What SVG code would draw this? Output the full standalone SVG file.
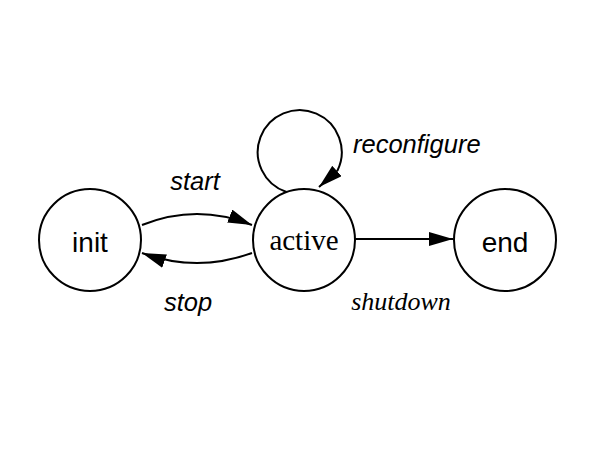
<svg xmlns="http://www.w3.org/2000/svg" width="600" height="450" viewBox="0 0 600 450">
<defs>
<style>
.node{fill:#fff;stroke:#000;stroke-width:2}
.edge{fill:none;stroke:#000;stroke-width:2}
.sans{font-family:"Liberation Sans",Arial,sans-serif;font-size:28px;fill:#000;text-anchor:middle}
.serif{font-family:"Liberation Serif","Times New Roman",serif;font-size:29px;fill:#000;text-anchor:middle}
.lbl{font-family:"Liberation Sans",Arial,sans-serif;font-size:25.5px;font-style:italic;fill:#000}
.lbls{font-family:"Liberation Serif","Times New Roman",serif;font-size:26px;font-style:italic;fill:#000}
</style>
<marker id="arr" markerUnits="userSpaceOnUse" markerWidth="24" markerHeight="14" refX="24" refY="7" orient="auto" viewBox="0 0 24 14">
<path d="M0,0 L24,7 L0,14 z" fill="#000"/>
</marker>
</defs>
<rect width="600" height="450" fill="#fff"/>
<g id="edges">
<path class="edge" d="M142,225 Q197,203 252,225" marker-end="url(#arr)"/>
<path class="edge" d="M252,253 Q197,273 142,253" marker-end="url(#arr)"/>
<path class="edge" d="M286.5,192 A42,42 0 1,1 337.5,170.5 L319,187" marker-end="url(#arr)"/>
<path class="edge" d="M355,239 L453,239" marker-end="url(#arr)"/>
<text class="lbl" x="195" y="190" text-anchor="middle">start</text>
<text class="lbl" x="188" y="311" text-anchor="middle">stop</text>
<text class="lbl" x="353" y="153">reconfigure</text>
<text class="lbls" x="401" y="310" text-anchor="middle">shutdown</text>
</g>
<g id="init">
<circle class="node" cx="90" cy="240" r="51"/>
<text class="sans" x="90" y="252">init</text>
</g>
<g id="active">
<circle class="node" cx="304" cy="240" r="51"/>
<text class="serif" x="304" y="250">active</text>
</g>
<g id="end">
<circle class="node" cx="505" cy="240" r="51"/>
<text class="sans" x="505" y="252">end</text>
</g>
</svg>
